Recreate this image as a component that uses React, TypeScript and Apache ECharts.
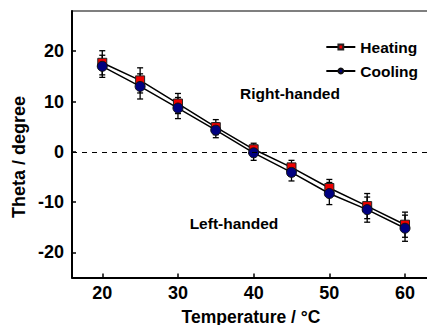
import React, { useEffect, useRef } from "react";
import * as echarts from "echarts";

const temperatures = [20, 25, 30, 35, 40, 45, 50, 55, 60];
const heating = [17.7, 14.2, 9.6, 4.9, 0.5, -3.1, -7.2, -10.8, -14.5];
const cooling = [17.0, 13.0, 8.7, 4.3, -0.2, -4.1, -8.3, -11.5, -15.2];
const heatingErr = [2.4, 2.5, 2.0, 1.5, 1.2, 1.4, 1.7, 2.5, 2.5];
const coolingErr = [2.2, 2.5, 2.1, 1.5, 1.5, 1.7, 2.2, 2.5, 2.6];
const xTicks = [20, 30, 40, 50, 60];
const yTicks = [-20, -10, 0, 10, 20];

const FONT = "'Liberation Sans', Arial, sans-serif";

function errorData(vals: number[], errs: number[]) {
  return temperatures.map((t, i) => [t, vals[i] - errs[i], vals[i] + errs[i]]);
}

function renderErr(params: any, api: any) {
  const x = api.value(0);
  const lo = api.coord([x, api.value(1)]);
  const hi = api.coord([x, api.value(2)]);
  const cap = 3;
  const style = { stroke: "#000", lineWidth: 1.3 };
  return {
    type: "group",
    children: [
      { type: "line", shape: { x1: lo[0], y1: lo[1], x2: hi[0], y2: hi[1] }, style },
      { type: "line", shape: { x1: lo[0] - cap, y1: lo[1], x2: lo[0] + cap, y2: lo[1] }, style },
      { type: "line", shape: { x1: hi[0] - cap, y1: hi[1], x2: hi[0] + cap, y2: hi[1] }, style },
    ],
  };
}

export default function App() {
  const ref = useRef<HTMLDivElement>(null);
  useEffect(() => {
    if (!ref.current) return;
    const chart = echarts.init(ref.current, undefined, { renderer: "svg" });
    chart.setOption({
      animation: false,
      backgroundColor: "#fff",
      grid: {
        left: 72,
        top: 11,
        right: 5,
        bottom: 55.5,
        show: true,
        borderColor: "#000",
        borderWidth: 1.2,
      },
      legend: {
        orient: "vertical",
        right: 12,
        top: 34,
        itemWidth: 29,
        itemHeight: 6,
        itemGap: 8,
        textStyle: { fontFamily: FONT, fontWeight: "bold", fontSize: 15.5, color: "#000" },
        data: ["Heating", "Cooling"],
      },
      xAxis: {
        type: "value",
        min: 16,
        max: 63.3,
        name: "Temperature / °C",
        nameLocation: "middle",
        nameGap: 30,
        nameTextStyle: { fontFamily: FONT, fontWeight: "bold", fontSize: 17.5, color: "#000" },
        axisLine: { show: true, onZero: false, lineStyle: { color: "#000", width: 2 } },
        axisTick: { show: true, inside: true, length: 4, customValues: xTicks, lineStyle: { color: "#000", width: 1.5 } },
        axisLabel: { customValues: xTicks, margin: 6, fontFamily: FONT, fontWeight: "bold", fontSize: 18, color: "#000" },
        splitLine: { show: false },
      },
      yAxis: {
        type: "value",
        min: -25,
        max: 28,
        axisLine: { show: true, onZero: false, lineStyle: { color: "#000", width: 2 } },
        axisTick: { show: true, inside: true, length: 4, customValues: yTicks, lineStyle: { color: "#000", width: 1.5 } },
        axisLabel: { customValues: yTicks, margin: 8, fontFamily: FONT, fontWeight: "bold", fontSize: 18, color: "#000" },
        splitLine: { show: false },
      },
      graphic: [
        {
          type: "text",
          x: 19,
          y: 157,
          rotation: Math.PI / 2,
          style: {
            text: "Theta / degree",
            fontFamily: FONT,
            fontWeight: "bold",
            fontSize: 18,
            fill: "#000",
            textAlign: "center",
            textVerticalAlign: "middle",
          },
        },
        {
          type: "text",
          x: 290,
          y: 93,
          style: {
            text: "Right-handed",
            fontFamily: FONT,
            fontWeight: "bold",
            fontSize: 15.5,
            fill: "#000",
            textAlign: "center",
            textVerticalAlign: "middle",
          },
        },
        {
          type: "text",
          x: 234,
          y: 223,
          style: {
            text: "Left-handed",
            fontFamily: FONT,
            fontWeight: "bold",
            fontSize: 15.5,
            fill: "#000",
            textAlign: "center",
            textVerticalAlign: "middle",
          },
        },
      ],
      series: [
        {
          type: "custom",
          name: "heatErr",
          renderItem: renderErr,
          data: errorData(heating, heatingErr),
          encode: { x: 0, y: [1, 2] },
          z: 1,
          silent: true,
        },
        {
          type: "custom",
          name: "coolErr",
          renderItem: renderErr,
          data: errorData(cooling, coolingErr),
          encode: { x: 0, y: [1, 2] },
          z: 1,
          silent: true,
        },
        {
          type: "line",
          name: "Heating",
          data: temperatures.map((t, i) => [t, heating[i]]),
          symbol: "rect",
          symbolSize: 9,
          lineStyle: { color: "#000", width: 1.5 },
          itemStyle: { color: "#ee0000", borderColor: "#222", borderWidth: 1 },
          z: 3,
          markLine: {
            silent: true,
            symbol: "none",
            label: { show: false },
            lineStyle: { color: "#000", type: [5, 5], width: 1.2 },
            data: [{ yAxis: 0 }],
          },
        },
        {
          type: "line",
          name: "Cooling",
          data: temperatures.map((t, i) => [t, cooling[i]]),
          symbol: "circle",
          symbolSize: 10,
          lineStyle: { color: "#000", width: 1.5 },
          itemStyle: { color: "#000080", borderColor: "#111", borderWidth: 1 },
          z: 4,
        },
      ],
    });
    return () => chart.dispose();
  }, []);
  return <div ref={ref} style={{ width: 435, height: 333, margin: -8 }} />;
}
